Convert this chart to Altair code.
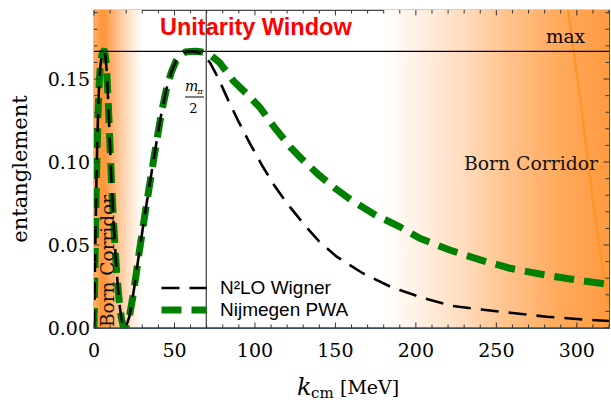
import altair as alt
import pandas as pd

# ---------------- data ----------------
series_names = ["N²LO Wigner", "Nijmegen PWA"]

k_wigner = [0, 0.5, 1.0, 1.5, 2.0, 2.5, 3.0, 3.5, 4.0, 4.6, 5.3, 6.0, 6.5, 7.2, 8.0, 8.8,
            9.6, 10.4, 11.2, 12, 13, 14, 15, 16, 17, 18, 18.8, 20, 22, 24, 26, 28, 30,
            32.7, 36, 39, 42, 45, 48, 51, 54, 57, 60, 61.5, 65, 68, 72, 77, 83.5, 90, 97,
            105, 112, 120, 130, 140, 150.8, 167, 184, 190, 204.5, 223, 242, 260, 281.5,
            300, 320]
e_wigner = [0, 0.03, 0.06, 0.088, 0.11, 0.128, 0.142, 0.152, 0.158, 0.163, 0.1658, 0.1667,
            0.1666, 0.163, 0.153, 0.137, 0.118, 0.099, 0.081, 0.066, 0.050, 0.035, 0.023,
            0.013, 0.006, 0.0015, 0.0, 0.001, 0.007, 0.018, 0.031, 0.045, 0.058, 0.075,
            0.095, 0.113, 0.130, 0.144, 0.154, 0.161, 0.1648, 0.1663, 0.1667, 0.1667,
            0.166, 0.1645, 0.160, 0.151, 0.137, 0.124, 0.111, 0.097, 0.086, 0.075, 0.063,
            0.052, 0.043, 0.033, 0.025, 0.0229, 0.018, 0.0133, 0.011, 0.009, 0.0068,
            0.0054, 0.0042]

k_pwa = [0, 0.5, 1.0, 1.5, 2.0, 2.5, 3.0, 3.5, 4.0, 4.6, 5.3, 6.0, 6.5, 7.2, 8.0, 8.8,
         9.6, 10.4, 11.2, 12, 13, 14, 15, 16, 17, 18, 18.8, 20, 22, 24, 26, 28, 30,
         32.7, 36, 39, 42, 45, 48, 51, 54, 57, 60, 63, 66, 71, 78, 86.5, 95, 103, 112,
         122, 131, 140, 150, 160, 175, 190, 202.5, 221, 240, 258.5, 277, 296, 314.5, 320]
e_pwa = [0, 0.03, 0.06, 0.088, 0.11, 0.128, 0.142, 0.152, 0.158, 0.163, 0.1658, 0.1667,
         0.1666, 0.163, 0.153, 0.137, 0.118, 0.099, 0.081, 0.066, 0.050, 0.035, 0.023,
         0.013, 0.006, 0.0015, 0.0, 0.001, 0.007, 0.018, 0.031, 0.045, 0.058, 0.075,
         0.095, 0.113, 0.130, 0.144, 0.154, 0.161, 0.1648, 0.1663, 0.1666, 0.1667,
         0.1665, 0.1655, 0.160, 0.149, 0.141, 0.133, 0.121, 0.109, 0.100, 0.092, 0.084,
         0.077, 0.068, 0.061, 0.054, 0.047, 0.041, 0.036, 0.0325, 0.0295, 0.027, 0.0263]

# thin orange boundary crossing the right corridor
k_edge = [294.6, 302.5, 310, 316, 320]
e_edge = [0.1916, 0.135, 0.077, 0.036, 0.0135]

e_max = [0.16667]          # maximal entanglement
k_half_mpi = [69.78]       # m_pi / 2
left_band = [0, 30]        # Born corridor (low k) shading extent
right_band = [180, 320]    # Born corridor (high k) shading extent

x_major = [0, 50, 100, 150, 200, 250, 300]
x_major_labels = ["0", "50", "100", "150", "200", "250", "300"]
x_minor = [10, 20, 30, 40, 60, 70, 80, 90, 110, 120, 130, 140, 160, 170, 180, 190,
           210, 220, 230, 240, 260, 270, 280, 290, 310, 320]
y_major = [0.0, 0.05, 0.10, 0.15]
y_major_labels = ["0.00", "0.05", "0.10", "0.15"]
y_minor = [0.01, 0.02, 0.03, 0.04, 0.06, 0.07, 0.08, 0.09, 0.11, 0.12, 0.13, 0.14,
           0.16, 0.17, 0.18, 0.19]

# ---------------- layout ----------------
W, H = 515, 318
XMAX, YMAX = 320, 0.1916
SERIF = "DejaVu Serif"
SANS = "Liberation Sans"

xs = alt.Scale(domain=[0, XMAX], nice=False, zero=False)
ys = alt.Scale(domain=[0, YMAX], nice=False, zero=False)


def X(f):
    return alt.X(f, type="quantitative", scale=xs, axis=None)


def Y(f):
    return alt.Y(f, type="quantitative", scale=ys, axis=None)


one = pd.DataFrame({"a": [0]})

# background gradients
band_left = pd.DataFrame({"k0": [left_band[0]], "k1": [left_band[1]]})
band_right = pd.DataFrame({"k0": [right_band[0]], "k1": [right_band[1]]})

grad_left = {"gradient": "linear", "x1": 0, "x2": 1, "y1": 0, "y2": 0, "stops": [
    {"offset": 0.0, "color": "#FFAA62"},
    {"offset": 0.1, "color": "#FFA250"},
    {"offset": 0.13, "color": "#FF963A"},
    {"offset": 0.25, "color": "#FF9B42"},
    {"offset": 0.32, "color": "#FFA85C"},
    {"offset": 0.55, "color": "#FFCA9C"},
    {"offset": 0.8, "color": "#FFEAD8"},
    {"offset": 1.0, "color": "#FFFFFF"}]}
grad_right = {"gradient": "linear", "x1": 0, "x2": 1, "y1": 0, "y2": 0, "stops": [
    {"offset": 0.0, "color": "#FFFFFF"},
    {"offset": 0.12, "color": "#FFF4EA"},
    {"offset": 0.35, "color": "#FFDDBE"},
    {"offset": 0.55, "color": "#FFC38C"},
    {"offset": 0.78, "color": "#FFAA5C"},
    {"offset": 1.0, "color": "#FF9A40"}]}

bg_left = alt.Chart(band_left).mark_rect(fill=grad_left).encode(
    x=X("k0"), x2="k1", y=alt.value(0), y2=alt.value(H))
bg_right = alt.Chart(band_right).mark_rect(fill=grad_right).encode(
    x=X("k0"), x2="k1", y=alt.value(0), y2=alt.value(H))

edge = alt.Chart(pd.DataFrame({"k": k_edge, "e": e_edge})).mark_line(
    color="#FF9224", strokeWidth=2.4, opacity=0.9, clip=True).encode(x=X("k"), y=Y("e"))

# curves
curves = pd.concat([
    pd.DataFrame({"k": k_wigner, "e": e_wigner, "series": series_names[0]}),
    pd.DataFrame({"k": k_pwa, "e": e_pwa, "series": series_names[1]}),
])

leg = alt.Legend(title=None, orient="none", legendX=64, legendY=267,
                 symbolType="stroke", symbolSize=2025, clipHeight=22,
                 labelFont=SANS, labelFontSize=19, labelColor="black",
                 labelOffset=10, padding=0, rowPadding=0, symbolOpacity=1)

enc = dict(
    x=X("k"),
    y=Y("e"),
    color=alt.Color("series:N", scale=alt.Scale(domain=series_names,
                                                range=["black", "#008000"]), legend=leg),
    strokeDash=alt.StrokeDash("series:N", scale=alt.Scale(domain=series_names,
                                                          range=[[18, 10], [20, 10]]),
                              legend=leg),
    strokeWidth=alt.StrokeWidth("series:N", scale=alt.Scale(domain=series_names,
                                                            range=[2.6, 7]),
                                legend=leg),
)

line_pwa = alt.Chart(curves).transform_filter(
    alt.datum.series == series_names[1]).mark_line(clip=True).encode(**enc)
line_wig = alt.Chart(curves).transform_filter(
    alt.datum.series == series_names[0]).mark_line(clip=True).encode(**enc)

max_rule = alt.Chart(pd.DataFrame({"e": e_max})).mark_rule(
    color="black", strokeWidth=1.4).encode(y=Y("e"))
mpi_rule = alt.Chart(pd.DataFrame({"k": k_half_mpi})).mark_rule(
    color="#555555", strokeWidth=1.4).encode(x=X("k"))
zero_rule = alt.Chart(pd.DataFrame({"e": [0.0]})).mark_rule(
    color="#34566f", strokeWidth=1.6).encode(y=Y("e"))


def label(text, x, y, **kw):
    return alt.Chart(one).mark_text(text=text, **kw).encode(
        x=alt.value(x), y=alt.value(y))


texts = [
    label("Unitarity Window", 66, 24.5, font=SANS, fontSize=23.5, fontWeight="bold",
          color="#FF0000", align="left", baseline="alphabetic"),
    label("max", 491, 33, font=SERIF, fontSize=18.5, color="black", align="right",
          baseline="alphabetic"),
    label("Born Corridor", 504, 160, font=SERIF, fontSize=18.8, color="#111111",
          align="right", baseline="alphabetic"),
    label("Born Corridor", 20, 317, font=SERIF, fontSize=18.5, color="#111111",
          align="left", baseline="alphabetic", angle=270),
    label("m", 91, 81, font=SERIF, fontSize=14, fontStyle="italic", color="black",
          align="left", baseline="alphabetic"),
    label("π", 103.5, 84, font=SERIF, fontSize=8, fontStyle="italic", color="black",
          align="left", baseline="alphabetic"),
    label("2", 99.5, 103, font=SERIF, fontSize=13, color="black", align="center",
          baseline="alphabetic"),
    label("entanglement", -73, 159, font=SERIF, fontSize=21, color="black",
          align="center", baseline="middle", angle=270),
    label("k", 203, 385, font=SERIF, fontSize=24, fontStyle="italic", color="black",
          align="left", baseline="alphabetic"),
    label("cm", 217, 388, font=SERIF, fontSize=15, color="black", align="left",
          baseline="alphabetic"),
    label("[MeV]", 246, 384, font=SERIF, fontSize=19, color="black", align="left",
          baseline="alphabetic"),
]
frac_bar = alt.Chart(one).mark_rule(color="black", strokeWidth=1).encode(
    x=alt.value(91), x2=alt.value(110), y=alt.value(87))

# tick labels
xlab = alt.Chart(pd.DataFrame({"k": x_major, "lab": x_major_labels})).mark_text(
    font=SERIF, fontSize=19, color="black", align="center", baseline="alphabetic"
).encode(x=X("k"), y=alt.value(H + 29), text="lab:N")
ylab = alt.Chart(pd.DataFrame({"e": y_major, "lab": y_major_labels})).mark_text(
    font=SERIF, fontSize=19, color="black", align="right", baseline="middle", dy=1
).encode(y=Y("e"), x=alt.value(-4), text="lab:N")

# inward frame ticks (all four sides)
TC = "#333333"
MAJ, MIN = 5.5, 3.5
dxM = pd.DataFrame({"k": x_major})
dxm = pd.DataFrame({"k": x_minor})
dyM = pd.DataFrame({"e": y_major})
dym = pd.DataFrame({"e": y_minor})
ticks = []
for d, L in ((dxM, MAJ), (dxm, MIN)):
    ticks.append(alt.Chart(d).mark_rule(color=TC, strokeWidth=1).encode(
        x=X("k"), y=alt.value(H), y2=alt.value(H - L)))
    ticks.append(alt.Chart(d).mark_rule(color=TC, strokeWidth=1).encode(
        x=X("k"), y=alt.value(0), y2=alt.value(L)))
for d, L in ((dyM, MAJ), (dym, MIN)):
    ticks.append(alt.Chart(d).mark_rule(color=TC, strokeWidth=1).encode(
        y=Y("e"), x=alt.value(0), x2=alt.value(L)))
    ticks.append(alt.Chart(d).mark_rule(color=TC, strokeWidth=1).encode(
        y=Y("e"), x=alt.value(W), x2=alt.value(W - L)))

chart = alt.layer(
    bg_left, bg_right, edge, line_pwa, line_wig, max_rule, mpi_rule, zero_rule,
    frac_bar, xlab, ylab, *texts, *ticks
).properties(
    width=W, height=H,
    autosize=alt.AutoSizeParams(type="none"),
    padding={"left": 94, "top": 10, "right": 2, "bottom": 75},
    background="white",
).configure_view(stroke="#444444", strokeWidth=1.2)

chart.save("out.html", embed_options={"renderer": "svg", "actions": False})
